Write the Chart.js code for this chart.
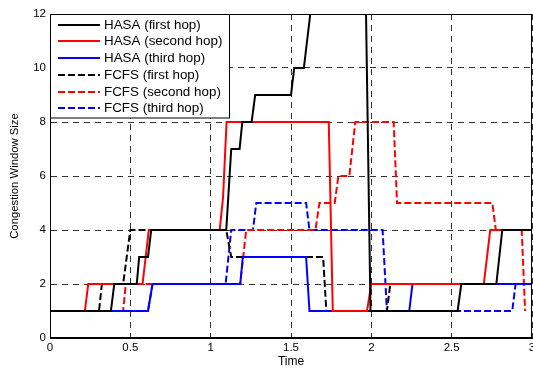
<!DOCTYPE html>
<html><head><meta charset="utf-8">
<script src="https://cdn.jsdelivr.net/npm/chart.js@4"></script>
<style>html,body{margin:0;padding:0;overflow:hidden;background:#fff}#wrap{position:relative;width:550px;height:369px}</style>
</head><body><div id="wrap"><canvas id="c" width="550" height="369"></canvas></div>
<script>
// ---- data ----
const seriesNames = ['HASA (first hop)','HASA (second hop)','HASA (third hop)','FCFS (first hop)','FCFS (second hop)','FCFS (third hop)'];

const hasa1T = [0,0.379,0.40,0.54,0.555,0.61,0.63,1.097,1.128,1.18,1.197,1.255,1.277,1.50,1.52,1.58,1.62,1.967,1.995,2.537,2.56,2.778,2.815,3.0];
const hasa1V = [1,1,2,2,3,3,4,4,7,7,8,8,9,9,10,10,12,12,1,1,2,2,4,4];

const hasa2T = [0,0.217,0.238,0.576,0.615,1.056,1.077,1.099,1.735,1.76,1.973,2.0,2.70,2.74,3.0];
const hasa2V = [1,1,2,2,4,4,5.2,8,8,1,1,2,2,4,4];

const hasa3T = [0,0.61,0.638,1.184,1.20,1.594,1.615,2.236,2.256,3.0];
const hasa3V = [1,1,2,2,3,3,1,1,2,2];

const fcfs1T = [0,0.305,0.323,0.455,0.50,1.097,1.128,1.70,1.72,2.097,2.118,3.0];
const fcfs1V = [1,1,2,2,4,4,3,3,1,1,2,2];

const fcfs2T = [0,0.455,0.472,1.184,1.221,1.652,1.677,1.772,1.795,1.863,1.90,2.139,2.16,2.753,2.775,2.936,2.957];
const fcfs2V = [1,1,2,2,4,4,5,5,6,6,8,8,5,5,4,4,1];

const fcfs3T = [0,0.61,0.638,1.093,1.128,1.263,1.284,1.594,1.615,2.07,2.097,2.877,2.898,3.0];
const fcfs3V = [1,1,2,2,4,4,5,5,4,4,1,1,2,2];

const xTickLabels = ['0','0.5','1','1.5','2','2.5','3'];
const yTickLabels = ['0','2','4','6','8','10','12'];

// ---- styling ----
const FONT = '"Liberation Sans", Arial, sans-serif';
const colors = ['#000000','#ff0000','#0000ff','#000000','#ff0000','#0000ff'];
const dashes = [[],[],[],[7,3],[7,3],[7,3]];
const allT = [hasa1T,hasa2T,hasa3T,fcfs1T,fcfs2T,fcfs3T];
const allV = [hasa1V,hasa2V,hasa3V,fcfs1V,fcfs2V,fcfs3V];

const datasets = seriesNames.map((name,i)=>({
  label: name,
  data: allT[i].map((t,k)=>({x:t,y:allV[i][k]})),
  borderColor: colors[i],
  backgroundColor: colors[i],
  borderWidth: 2,
  borderDash: dashes[i],
  pointRadius: 0,
  tension: 0,
  fill: false
}));

const framePlugin = {
  id: 'frameLegend',
  afterDraw(chart){
    const {ctx, chartArea:a} = chart;
    ctx.save();
    ctx.strokeStyle = '#000';
    ctx.lineWidth = 1;
    ctx.setLineDash([]);
    const L = Math.round(a.left)+0.5, T = Math.round(a.top)+0.5, R = Math.round(a.right)-0.5, B = Math.round(a.bottom)-0.5;
    ctx.strokeRect(L, T, R-L, B-T);
    // legend box
    const lx = L, ly = T, lw = 179, lh = 103.5;
    ctx.fillStyle = '#fff';
    ctx.fillRect(lx, ly, lw, lh);
    ctx.strokeRect(lx, ly, lw, lh);
    ctx.font = '13.4px ' + FONT;
    ctx.textBaseline = 'middle';
    ctx.textAlign = 'left';
    for (let i=0;i<seriesNames.length;i++){
      const y = Math.round(24.7 + i*16.7);
      ctx.beginPath();
      ctx.strokeStyle = colors[i];
      ctx.lineWidth = 2;
      ctx.setLineDash(dashes[i]);
      ctx.moveTo(58, y);
      ctx.lineTo(100, y);
      ctx.stroke();
      ctx.setLineDash([]);
      ctx.fillStyle = '#000';
      ctx.fillText(seriesNames[i], 104, y+0.5);
    }
    ctx.restore();
  }
};

new Chart(document.getElementById('c'), {
  type: 'line',
  data: { datasets },
  options: {
    responsive: false,
    animation: false,
    devicePixelRatio: 1,
    layout: { padding: { left: 0, right: 18, top: 14, bottom: 0 } },
    plugins: { legend: { display: false }, tooltip: { enabled: false } },
    scales: {
      x: {
        type: 'linear', min: 0, max: 3,
        afterFit(s){ s.height = 31; },
        ticks: { stepSize: 0.5, autoSkip: false, maxRotation: 0, padding: 3, color: '#000',
                 font: { family: FONT, size: 11.5 },
                 callback: (v)=>{ const i = Math.round(v/0.5); return xTickLabels[i] ?? ''; } },
        grid: { color: '#333', lineWidth: 1, drawTicks: false },
        border: { display: true, color: '#000', width: 1, dash: [6,5] },
        title: { display: true, text: 'Time', color: '#000', font: { family: FONT, size: 12 }, padding: { top: 0, bottom: 0 } }
      },
      y: {
        type: 'linear', min: 0, max: 12,
        afterFit(s){ s.width = 50; },
        ticks: { stepSize: 2, autoSkip: false, padding: 4, color: '#000',
                 font: { family: FONT, size: 11.5 },
                 callback: (v)=>{ const i = Math.round(v/2); return yTickLabels[i] ?? ''; } },
        grid: { color: '#333', lineWidth: 1, drawTicks: false },
        border: { display: true, color: '#000', width: 1, dash: [6,5] },
        title: { display: true, text: 'Congestion Window Size', color: '#000', font: { family: FONT, size: 11.3 }, padding: { top: 8, bottom: 0 } }
      }
    }
  },
  plugins: [framePlugin]
});
</script></body></html>
